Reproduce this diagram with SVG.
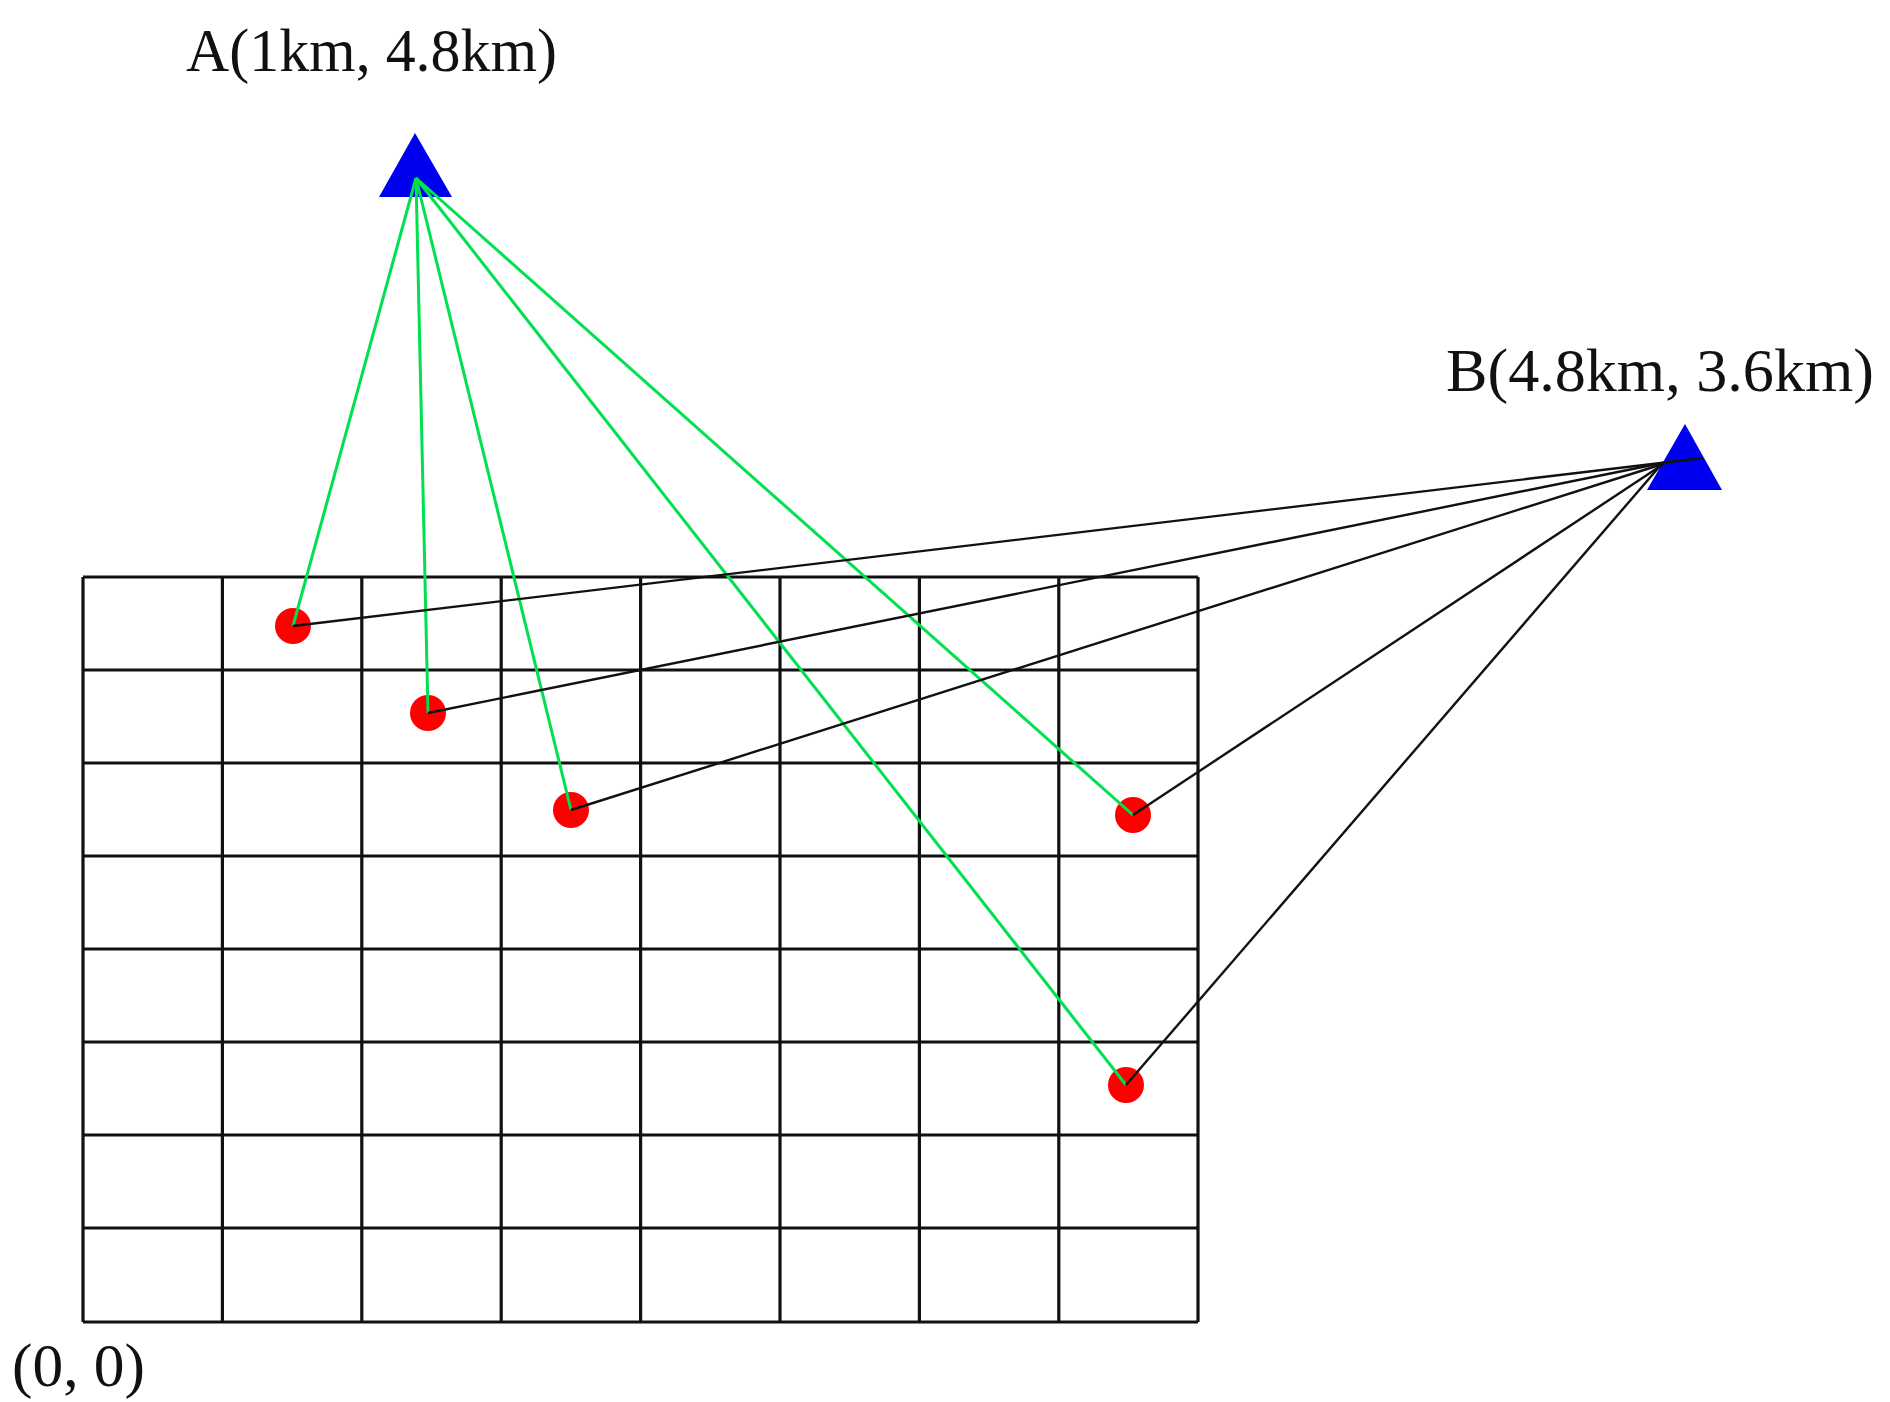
<svg xmlns="http://www.w3.org/2000/svg" width="1890" height="1402" viewBox="0 0 1890 1402">
<style>
.lbl{font-family:"Liberation Serif","Times New Roman",serif;font-size:62px;fill:#111}
.grid line{stroke:#111;stroke-width:3.2}
.tri{fill:#0000f0}
.pt{fill:#ff0000}
.g{stroke:#00e050;stroke-width:3;fill:none}
.k{stroke:#111;stroke-width:2.4;fill:none}
</style>
<rect width="1890" height="1402" fill="#fff"/>
<g id="grid" class="grid">
<line x1="83" y1="577" x2="1198" y2="577"/>
<line x1="83" y1="670" x2="1198" y2="670"/>
<line x1="83" y1="763" x2="1198" y2="763"/>
<line x1="83" y1="856" x2="1198" y2="856"/>
<line x1="83" y1="949" x2="1198" y2="949"/>
<line x1="83" y1="1042" x2="1198" y2="1042"/>
<line x1="83" y1="1135" x2="1198" y2="1135"/>
<line x1="83" y1="1228" x2="1198" y2="1228"/>
<line x1="83" y1="1322" x2="1198" y2="1322"/>
<line x1="83" y1="577" x2="83" y2="1322"/>
<line x1="222.4" y1="577" x2="222.4" y2="1322"/>
<line x1="361.8" y1="577" x2="361.8" y2="1322"/>
<line x1="501.2" y1="577" x2="501.2" y2="1322"/>
<line x1="640.6" y1="577" x2="640.6" y2="1322"/>
<line x1="780" y1="577" x2="780" y2="1322"/>
<line x1="919.4" y1="577" x2="919.4" y2="1322"/>
<line x1="1058.8" y1="577" x2="1058.8" y2="1322"/>
<line x1="1198" y1="577" x2="1198" y2="1322"/>
</g>
<g id="nodeA">
<polygon class="tri" points="415,133 379,197 452,197"/>
<text class="lbl" x="186" y="71" textLength="371" lengthAdjust="spacingAndGlyphs">A(1km, 4.8km)</text>
</g>
<g id="nodeB">
<polygon class="tri" points="1685,424 1647,490 1722,490"/>
<text class="lbl" x="1446" y="391" textLength="428" lengthAdjust="spacingAndGlyphs">B(4.8km, 3.6km)</text>
</g>
<g id="origin">
<text class="lbl" x="12" y="1386" textLength="133" lengthAdjust="spacingAndGlyphs">(0, 0)</text>
</g>
<g id="p1"><circle class="pt" cx="293" cy="626" r="18"/></g>
<g id="p2"><circle class="pt" cx="428" cy="713" r="18"/></g>
<g id="p3"><circle class="pt" cx="571" cy="810" r="18"/></g>
<g id="p4"><circle class="pt" cx="1133" cy="815" r="18"/></g>
<g id="p5"><circle class="pt" cx="1126" cy="1085" r="18"/></g>
<g id="connectors">
<line class="g" x1="416" y1="178" x2="293" y2="626"/>
<line class="g" x1="416" y1="178" x2="428" y2="713"/>
<line class="g" x1="416" y1="178" x2="571" y2="810"/>
<line class="g" x1="416" y1="178" x2="1133" y2="815"/>
<line class="g" x1="416" y1="178" x2="1126" y2="1085"/>
<line class="k" x1="293" y1="626" x2="1703" y2="458"/>
<line class="k" x1="428" y1="713" x2="1672" y2="461"/>
<line class="k" x1="571" y1="810" x2="1666" y2="463"/>
<line class="k" x1="1133" y1="815" x2="1662" y2="465"/>
<line class="k" x1="1126" y1="1085" x2="1660" y2="466"/>
</g>
</svg>
